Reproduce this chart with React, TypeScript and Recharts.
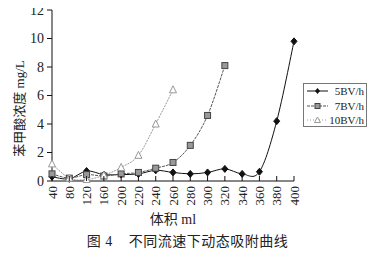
import React from "react";
import { LineChart, Line, XAxis, YAxis, Label } from "recharts";

const categories = ["40", "80", "120", "160", "200", "220", "240", "260", "280", "300", "320", "340", "360", "380", "400"];
const s5 = [0.3, 0.15, 0.7, 0.45, 0.45, 0.5, 0.75, 0.6, 0.5, 0.6, 0.85, 0.5, 0.65, 4.2, 9.8];
const s7 = [0.5, 0.2, 0.45, 0.35, 0.5, 0.6, 0.9, 1.3, 2.5, 4.6, 8.1, null, null, null, null];
const s10 = [1.2, 0.2, 0.1, 0.4, 0.95, 1.8, 4.0, 6.4, null, null, null, null, null, null, null];
const yTicks = [0, 2, 4, 6, 8, 10, 12];
const seriesNames = ["5BV/h", "7BV/h", "10BV/h"];

const data = categories.map((c, i) => ({ v: c, a: s5[i], b: s7[i], c: s10[i] }));

const SERIF = "'Liberation Serif', 'Noto Sans CJK SC', serif";

function smoothCurve(context: any) {
  let pts: number[][] = [];
  return {
    areaStart() {},
    areaEnd() {},
    lineStart() {
      pts = [];
    },
    point(x: number, y: number) {
      pts.push([+x, +y]);
    },
    lineEnd() {
      const n = pts.length;
      if (!n) return;
      context.moveTo(pts[0][0], pts[0][1]);
      for (let i = 0; i < n - 1; i++) {
        const p0 = pts[i - 1] || pts[i];
        const p1 = pts[i];
        const p2 = pts[i + 1];
        const p3 = pts[i + 2] || p2;
        context.bezierCurveTo(
          p1[0] + (p2[0] - p0[0]) / 6,
          p1[1] + (p2[1] - p0[1]) / 6,
          p2[0] - (p3[0] - p1[0]) / 6,
          p2[1] - (p3[1] - p1[1]) / 6,
          p2[0],
          p2[1]
        );
      }
    },
  };
}

const Diamond = (props: any) => {
  const { cx, cy, value } = props;
  if (value == null || cx == null) return null;
  return <path d={`M${cx},${cy - 3.5}L${cx + 3},${cy}L${cx},${cy + 3.5}L${cx - 3},${cy}Z`} fill="#111" stroke="#111" />;
};
const Square = (props: any) => {
  const { cx, cy, value } = props;
  if (value == null || cx == null) return null;
  return <rect x={cx - 3} y={cy - 3} width={6} height={6} fill="#999" stroke="#444" strokeWidth={1} />;
};
const Triangle = (props: any) => {
  const { cx, cy, value } = props;
  if (value == null || cx == null) return null;
  return <path d={`M${cx},${cy - 4}L${cx + 3.5},${cy + 3}L${cx - 3.5},${cy + 3}Z`} fill="#fff" stroke="#999" strokeWidth={1} />;
};

const XTick = (props: any) => {
  const { x, y, payload } = props;
  return (
    <g>
      <line x1={x} y1={y} x2={x} y2={y - 5} stroke="#111" />
      <text
        x={x}
        y={y + 5}
        transform={`rotate(-90 ${x} ${y + 5})`}
        textAnchor="end"
        dominantBaseline="central"
        fontFamily={SERIF}
        fontSize={13}
        fill="#222"
      >
        {payload.value}
      </text>
    </g>
  );
};

const LegendBox = () => (
  <svg width={64} height={44} style={{ display: "block" }}>
    <rect x={0.5} y={0.5} width={63} height={43} fill="#fff" stroke="#777" />
    <line x1={4} y1={8} x2={25} y2={8} stroke="#111" />
    <path d="M14.5,5L17,8L14.5,11L12,8Z" fill="#111" />
    <text x={61} y={12} textAnchor="end" fontFamily={SERIF} fontSize={11} fill="#222">{seriesNames[0]}</text>
    <line x1={4} y1={23} x2={25} y2={23} stroke="#555" strokeDasharray="3 1" />
    <rect x={12} y={20.5} width={5} height={5} fill="#999" stroke="#444" />
    <text x={61} y={27} textAnchor="end" fontFamily={SERIF} fontSize={11} fill="#222">{seriesNames[1]}</text>
    <line x1={4} y1={37} x2={25} y2={37} stroke="#999" strokeDasharray="1 2" />
    <path d="M14.5,34L17.5,39.5L11.5,39.5Z" fill="#fff" stroke="#999" />
    <text x={61} y={41} textAnchor="end" fontFamily={SERIF} fontSize={11} fill="#222">{seriesNames[2]}</text>
  </svg>
);

const YLabel = (props: any) => {
  const vb = props.viewBox || {};
  const x = (vb.x ?? 0) + 19;
  const y = (vb.y ?? 0) + (vb.height ?? 0) / 2 + 13;
  return (
    <text
      x={x}
      y={y}
      transform={`rotate(-90 ${x} ${y})`}
      textAnchor="middle"
      dominantBaseline="central"
      fontFamily={SERIF}
      fontSize={13}
      fill="#222"
    >
      苯甲酸浓度 mg/L
    </text>
  );
};

export default function App() {
  return (
    <div style={{ position: "relative", width: 389, height: 255, margin: "-8px 0 0 -8px" }}>
      <LineChart width={389} height={255} data={data} margin={{ top: 10, right: 95, bottom: 29, left: 0 }}>
        <XAxis
          dataKey="v"
          interval={0}
          tickLine={false}
          tickSize={0}
          tickMargin={0}
          height={45}
          tick={<XTick />}
          stroke="#111"
        >
          <Label value="体积 ml" position="insideBottom" offset={2} fontFamily={SERIF} fontSize={14} fill="#222" />
        </XAxis>
        <YAxis
          width={52}
          domain={[0, 12]}
          ticks={yTicks}
          interval={0}
          tickSize={5}
          tickMargin={3}
          stroke="#111"
          tick={{ fontFamily: SERIF, fontSize: 14, fill: "#222" }}
        >
          <Label content={<YLabel />} />
        </YAxis>
        <Line dataKey="a" name={seriesNames[0]} type={smoothCurve as any} stroke="#111" strokeWidth={1} dot={<Diamond />} activeDot={false} isAnimationActive={false} />
        <Line dataKey="b" name={seriesNames[1]} type={smoothCurve as any} stroke="#555" strokeWidth={1} strokeDasharray="3 1" dot={<Square />} activeDot={false} isAnimationActive={false} />
        <Line dataKey="c" name={seriesNames[2]} type={smoothCurve as any} stroke="#999" strokeWidth={1} strokeDasharray="2 1" dot={<Triangle />} activeDot={false} isAnimationActive={false} />
      </LineChart>
      <div style={{ position: "absolute", left: 303, top: 83 }}>
        <LegendBox />
      </div>
      <div
        style={{
          position: "absolute",
          left: 0,
          width: 375,
          top: 232,
          lineHeight: "20px",
          textAlign: "center",
          fontFamily: SERIF,
          fontSize: 14,
          letterSpacing: 0.5,
          color: "#222",
          whiteSpace: "pre",
        }}
      >
        {"图 4    不同流速下动态吸附曲线"}
      </div>
    </div>
  );
}
